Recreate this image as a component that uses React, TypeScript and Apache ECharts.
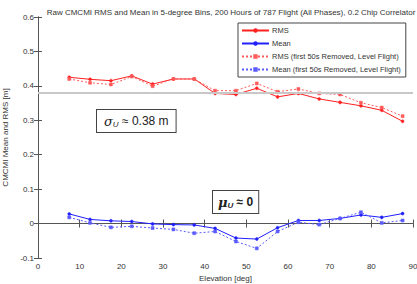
import React, { useEffect, useRef } from "react";
import * as echarts from "echarts";

const elevation = [7.5, 12.5, 17.5, 22.5, 27.5, 32.5, 37.5, 42.5, 47.5, 52.5, 57.5, 62.5, 67.5, 72.5, 77.5, 82.5, 87.5];
const rms = [0.425, 0.419, 0.415, 0.429, 0.405, 0.42, 0.42, 0.378, 0.375, 0.393, 0.368, 0.378, 0.362, 0.352, 0.342, 0.329, 0.297];
const mean = [0.028, 0.012, 0.008, 0.006, -0.001, -0.003, -0.004, -0.014, -0.042, -0.045, -0.012, 0.009, 0.009, 0.015, 0.025, 0.018, 0.029];
const rmsLevel = [0.42, 0.409, 0.404, 0.427, 0.399, 0.42, 0.42, 0.386, 0.386, 0.407, 0.383, 0.391, 0.378, 0.375, 0.351, 0.337, 0.312];
const meanLevel = [0.018, 0.002, -0.011, -0.008, -0.013, -0.017, -0.028, -0.023, -0.052, -0.072, -0.023, 0.004, -0.003, 0.015, 0.033, 0.002, 0.009];
const sigmaLine = 0.38;

const FONT = "Liberation Sans";

const pairs = (ys: number[]) => elevation.map((x, i) => [x, ys[i]]);

export default function App() {
  const ref = useRef<HTMLDivElement>(null);
  useEffect(() => {
    if (!ref.current) return;
    const chart = echarts.init(ref.current, null, { renderer: "svg" });
    const axisLine = { show: true, lineStyle: { color: "#555", width: 1 } };
    const axisTick = { show: true, inside: true, length: 4, lineStyle: { color: "#555" } };
    const mkSeries = (name: string, ys: number[], color: string, dashed: boolean, extra: any = {}) => ({
      name,
      type: "line",
      data: pairs(ys),
      xAxisIndex: 0,
      yAxisIndex: 0,
      symbol: dashed ? "rect" : "circle",
      symbolSize: 3,
      showSymbol: true,
      lineStyle: { color, width: 1, type: dashed ? [2, 2] : "solid" },
      itemStyle: { color, borderColor: color, borderWidth: 0.5 },
      ...extra,
    });
    chart.setOption({
      animation: false,
      title: {
        text: "Raw CMCMI RMS and Mean in 5-degree Bins, 200 Hours of 787 Flight (All Phases), 0.2 Chip Correlator",
        left: 226,
        top: 3,
        textAlign: "center",
        textStyle: { fontFamily: FONT, fontSize: 8, fontWeight: "normal", color: "#333" },
      },
      grid: { left: 38, right: 4, top: 17, bottom: 26, outerBoundsMode: "none", containLabel: false },
      legend: {
        orient: "vertical",
        left: 238,
        top: 23,
        padding: [3, 5, 3, 3],
        itemGap: 4,
        itemWidth: 27,
        itemHeight: 3,
        borderColor: "#444",
        borderWidth: 1,
        backgroundColor: "#fff",
        textStyle: { fontFamily: FONT, fontSize: 7.5, color: "#333", height: 9, lineHeight: 9, padding: [0, 0, 0, -2] },
        data: ["RMS", "Mean", "RMS (first 50s Removed, Level Flight)", "Mean (first 50s Removed, Level Flight)"],
      },
      xAxis: [
        {
          type: "value",
          min: 0,
          max: 90,
          interval: 10,
          position: "bottom",
          axisLine,
          axisTick,
          splitLine: { show: false },
          axisLabel: { fontFamily: FONT, fontSize: 8, color: "#333", margin: 4 },
          name: "Elevation [deg]",
          nameLocation: "middle",
          nameGap: 16,
          nameTextStyle: { fontFamily: FONT, fontSize: 8, color: "#333" },
        },
        {
          type: "value",
          min: 0,
          max: 90,
          interval: 10,
          position: "top",
          axisLine,
          axisTick,
          splitLine: { show: false },
          axisLabel: { show: false },
        },
      ],
      yAxis: [
        {
          type: "value",
          min: -0.1,
          max: 0.6,
          interval: 0.1,
          position: "left",
          axisLine,
          axisTick,
          splitLine: { show: false },
          axisLabel: { fontFamily: FONT, fontSize: 8, color: "#333", margin: 4 },
          name: "CMCMI Mean and RMS [m]",
          nameLocation: "middle",
          nameGap: 24,
          nameTextStyle: { fontFamily: FONT, fontSize: 8, color: "#333" },
        },
        {
          type: "value",
          min: -0.1,
          max: 0.6,
          interval: 0.1,
          position: "right",
          axisLine,
          axisTick,
          splitLine: { show: false },
          axisLabel: { show: false },
        },
      ],
      series: [
        mkSeries("RMS", rms, "#ff2020", false, {
          markLine: {
            silent: true,
            symbol: "none",
            label: { show: false },
            lineStyle: { color: "#c8c8c8", width: 2, type: "solid" },
            data: [{ yAxis: sigmaLine }],
          },
        }),
        mkSeries("Mean", mean, "#2020ff", false),
        mkSeries("RMS (first 50s Removed, Level Flight)", rmsLevel, "#ff5a5a", true),
        mkSeries("Mean (first 50s Removed, Level Flight)", meanLevel, "#5a5aff", true),
      ],
      graphic: [
        {
          type: "text",
          left: 96,
          top: 109,
          z: 100,
          style: {
            text: "{g|σ}{s|U}{n| ≈ 0.38 m}",
            backgroundColor: "#fff",
            borderColor: "#444",
            borderWidth: 1,
            padding: [4, 7, 4, 7],
            rich: {
              g: { fontFamily: "DejaVu Serif", fontStyle: "italic", fontSize: 13, fill: "#222" },
              s: { fontFamily: FONT, fontStyle: "italic", fontSize: 8, fill: "#222", verticalAlign: "bottom", padding: [6, 0, 0, 0] },
              n: { fontFamily: FONT, fontSize: 12, fill: "#222" },
            },
          },
        },
        {
          type: "text",
          left: 212,
          top: 190,
          z: 100,
          style: {
            text: "{g|μ}{s|U}{n| ≈ 0}",
            backgroundColor: "#fff",
            borderColor: "#444",
            borderWidth: 1,
            padding: [4, 5, 4, 5],
            rich: {
              g: { fontFamily: "DejaVu Serif", fontStyle: "italic", fontWeight: "bold", fontSize: 13, fill: "#222" },
              s: { fontFamily: FONT, fontStyle: "italic", fontWeight: "bold", fontSize: 8, fill: "#222", verticalAlign: "bottom", padding: [6, 0, 0, 0] },
              n: { fontFamily: FONT, fontWeight: "bold", fontSize: 12, fill: "#222" },
            },
          },
        },
      ],
    });
    return () => chart.dispose();
  }, []);
  return <div ref={ref} style={{ width: 417, height: 284, position: "absolute", left: 0, top: 0 }} />;
}
